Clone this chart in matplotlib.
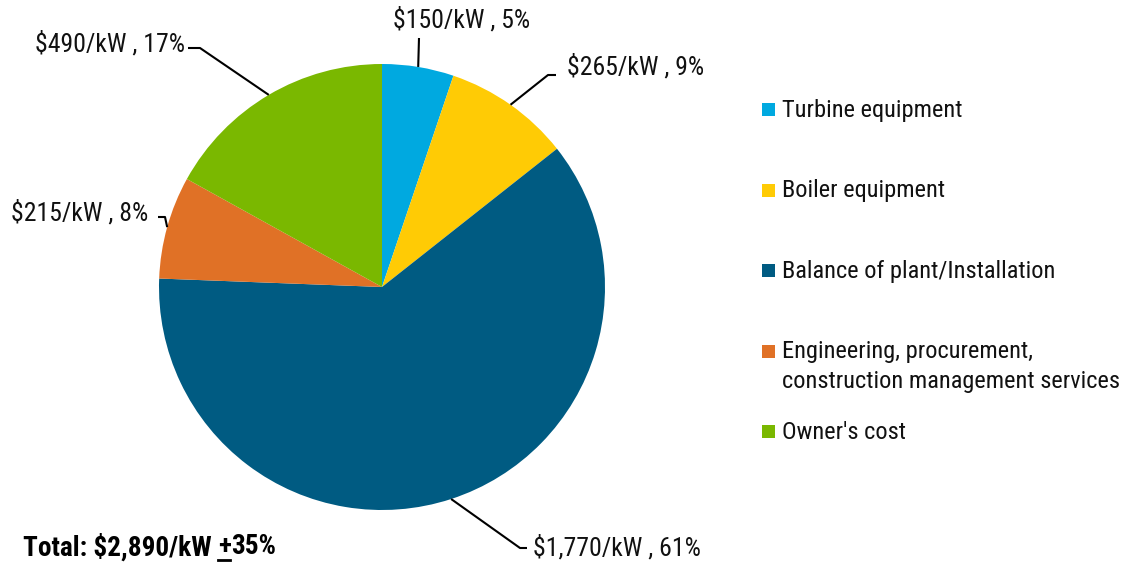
import numpy as np
import matplotlib
matplotlib.use('Agg')
import matplotlib.pyplot as plt
from matplotlib.patches import Rectangle

plt.rcParams['font.family'] = ['Roboto Condensed', 'DejaVu Sans']

# ---------------- data ----------------
categories = ['Turbine equipment', 'Boiler equipment', 'Balance of plant/Installation',
              'Engineering, procurement,\nconstruction management services', "Owner's cost"]
cost_kw = [150, 265, 1770, 215, 490]
pct_labels = ['5%', '9%', '61%', '8%', '17%']
colors = ['#00A9E0', '#FFCB05', '#005B82', '#E07126', '#7AB800']
total_text = ('Total: \\$2,890/kW ', '+', '35%')

# ---------------- layout (pixels of the 1123x562 picture) ----------------
W, H = 1123, 562
cx, cy, R = 382, 287, 223

def px(x, y):
    # pixel -> data coords (pie radius = 1)
    return (x - cx) / R, (cy - y) / R

# label anchor, alignment, elbow point (pixels)
label_pos = [(462, 20), (567, 67), (533, 548), (148, 213), (185, 44)]
label_ha = ['center', 'left', 'left', 'right', 'right']
elbow = [[(419, 38)], [(556, 75), (548, 75)], [(527, 548), (520, 548)],
         [(158, 217), (165, 217)], [(188, 48), (200, 48)]]

fig = plt.figure(figsize=(W / 100, H / 100), dpi=100)
ax = fig.add_axes([0, 0, 1, 1])

wedges, _ = ax.pie(cost_kw, colors=colors, startangle=90, counterclock=False,
                   radius=1, center=(0, 0), frame=True,
                   wedgeprops=dict(linewidth=0))
ax.set_xlim(-cx / R, (W - cx) / R)
ax.set_ylim(-(H - cy) / R, cy / R)
ax.axis('off')

fs = 18.5
for i, w in enumerate(wedges):
    mid = np.deg2rad((w.theta1 + w.theta2) / 2)
    ex, ey = np.cos(mid), np.sin(mid)
    pts = [px(*p) for p in elbow[i]] + [(ex, ey)]
    xs, ys = zip(*pts)
    ax.plot(xs, ys, color='black', lw=1.5, solid_capstyle='butt')
    tx, ty = px(*label_pos[i])
    ax.text(tx, ty, f'${cost_kw[i]:,}/kW , {pct_labels[i]}'.replace('$', '\\$'),
            ha=label_ha[i], va='center', fontsize=fs, color='#111111')

# legend drawn by hand: squares evenly spaced, text top-aligned
leg_x, leg_y0, leg_dy, sq = 762, 110, 80.5, 13
for i, lab in enumerate(categories):
    yc = leg_y0 + i * leg_dy
    x0, y0 = px(leg_x, yc + sq / 2)
    ax.add_patch(Rectangle((x0, y0), sq / R, sq / R, color=colors[i], lw=0))
    tx, ty = px(leg_x + 20, yc - 11)
    ax.text(tx, ty, lab, ha='left', va='top', fontsize=17.6, color='#111111',
            linespacing=1.38)

# total line with underlined plus sign
fig.canvas.draw()
r = fig.canvas.get_renderer()
x, y = px(23, 547)
fst = 19.6
t1 = ax.text(x, y, total_text[0], ha='left', va='center', fontsize=fst, fontweight='bold')
bb = t1.get_window_extent(r).transformed(ax.transData.inverted())
t2 = ax.text(bb.x1, y, total_text[1], ha='left', va='center', fontsize=fst, fontweight='bold')
bb2 = t2.get_window_extent(r).transformed(ax.transData.inverted())
ax.text(bb2.x1, y, total_text[2], ha='left', va='center', fontsize=fst, fontweight='bold')
uy = px(0, 560)[1]
ax.plot([bb2.x0 + 0.002, bb2.x1 - 0.002], [uy, uy], color='black', lw=2)

fig.savefig('out.png', dpi=100)
